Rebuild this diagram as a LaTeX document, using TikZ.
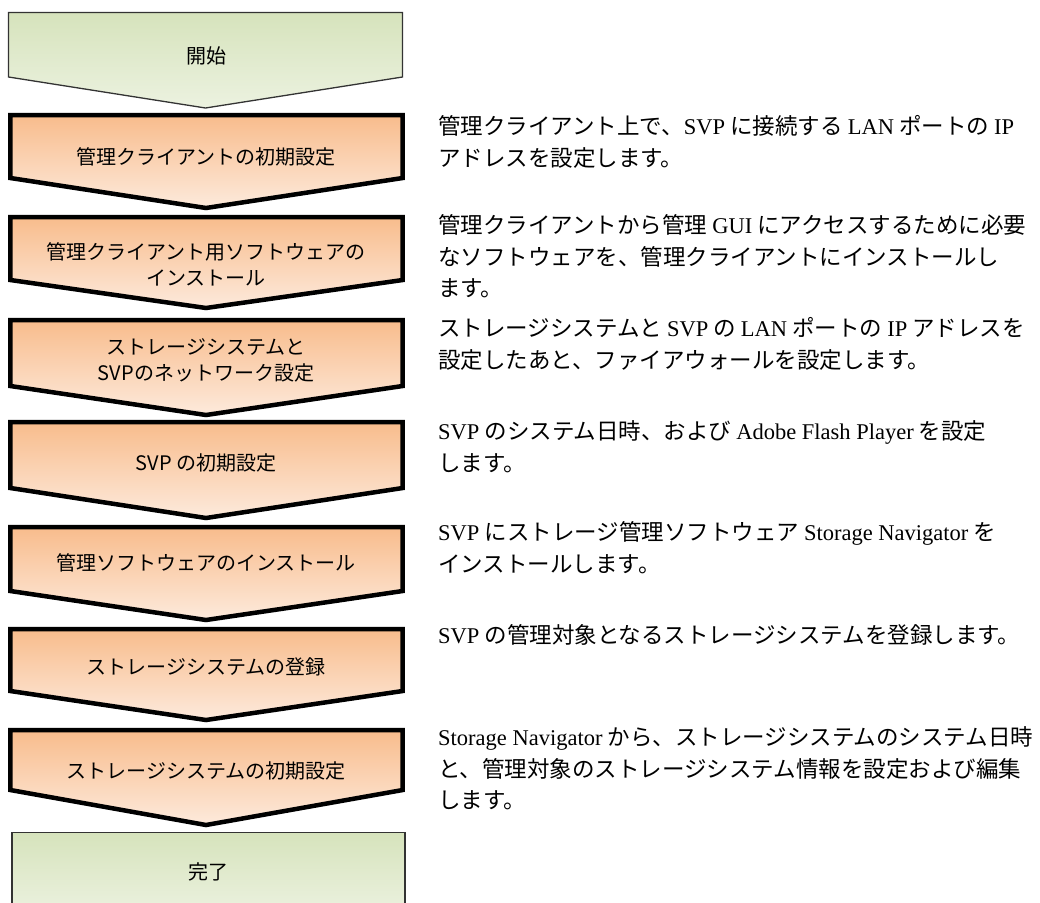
\documentclass[tikz,border=0pt]{standalone}
\usepackage{fontspec}
\newfontfamily\jp{Noto Sans CJK JP}
\newfontfamily\lsf{Liberation Serif}
\newcommand\E[1]{{\lsf #1}}
\definecolor{orTop}{RGB}{248,188,140}
\definecolor{orBot}{RGB}{253,234,220}
\definecolor{grTop}{RGB}{214,227,188}
\definecolor{grBot}{RGB}{236,242,224}
\tikzset{
  stepshape/.style={draw=black, line width=4.5pt, line join=miter, top color=orTop, bottom color=orBot},
  endshape/.style={draw=black!80, line width=1.3pt, line join=miter, top color=grTop, bottom color=grBot},
  boxtext/.style={font=\jp\fontsize{20}{26}\selectfont, align=center, inner sep=0pt, anchor=center, text=black},
  desc/.style={font=\jp\fontsize{22.5}{31.5}\selectfont, align=left, inner sep=0pt, anchor=north west, text=black},
}
\newcommand\chev[4]{\path[#4] (10.3,#1) -- (402.7,#1) -- (402.7,#2) -- (206,#3) -- (10.3,#2) -- cycle;}
\begin{document}
\begin{tikzpicture}[x=1pt,y=-1pt]
\useasboundingbox (0,0) rectangle (1040,902);
\clip (0,0) rectangle (1040,902);
% start
\path[endshape] (8.5,12.5) -- (402.5,12.5) -- (402.5,77) -- (205.5,108) -- (8.5,77) -- cycle;
\node[boxtext] (n0) at (206,56) {開始};
% steps
\chev{115}{178}{208}{stepshape}
\node[boxtext] (n1) at (206,157) {管理クライアントの初期設定};
\chev{217}{280}{308}{stepshape}
\node[boxtext] (n2) at (206,264) {管理クライアント用ソフトウェアの\\インストール};
\chev{320}{386}{415}{stepshape}
\node[boxtext] (n3) at (206,360) {ストレージシステムと\\SVPのネットワーク設定};
\chev{422}{488}{518}{stepshape}
\node[boxtext] (n4) at (206,463) {SVP の初期設定};
\chev{527}{591}{620}{stepshape}
\node[boxtext] (n5) at (206,563) {管理ソフトウェアのインストール};
\chev{629}{691}{720}{stepshape}
\node[boxtext] (n6) at (206,667) {ストレージシステムの登録};
\chev{730}{790}{825}{stepshape}
\node[boxtext] (n7) at (206,771) {ストレージシステムの初期設定};
% end
\path[endshape] (12,832.5) rectangle (405,915);
\node[boxtext] (n8) at (208,872) {完了};
% descriptions
\node[desc] (d1) at (438,115.5) {管理クライアント上で、\E{SVP} に接続する \E{LAN} ポートの \E{IP}\\アドレスを設定します。};
\node[desc] (d2) at (438,214.5) {管理クライアントから管理 \E{GUI} にアクセスするために必要\\なソフトウェアを、管理クライアントにインストールし\\ます。};
\node[desc] (d3) at (438,317.5) {ストレージシステムと \E{SVP} の \E{LAN} ポートの \E{IP} アドレスを\\設定したあと、ファイアウォールを設定します。};
\node[desc] (d4) at (438,420.5) {\E{SVP} のシステム日時、および \E{Adobe Flash Player} を設定\\します。};
\node[desc] (d5) at (438,521.5) {\E{SVP} にストレージ管理ソフトウェア \E{Storage Navigator} を\\インストールします。};
\node[desc] (d6) at (438,624.5) {\E{SVP} の管理対象となるストレージシステムを登録します。};
\node[desc] (d7) at (438,726.5) {\E{Storage Navigator} から、ストレージシステムのシステム日時\\と、管理対象のストレージシステム情報を設定および編集\\します。};
\end{tikzpicture}
\end{document}
